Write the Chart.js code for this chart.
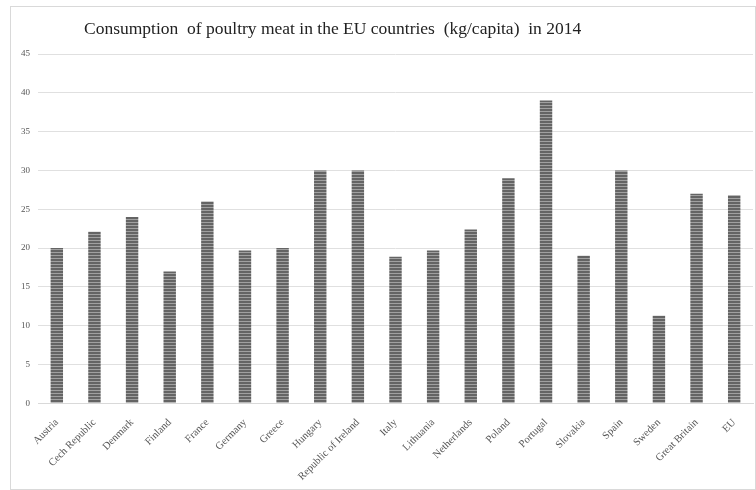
<!DOCTYPE html>
<html>
<head>
<meta charset="utf-8">
<script src="https://cdn.jsdelivr.net/npm/chart.js@4"></script>
<style>
  body { margin: 0; background: #fff; }
  #box { position: absolute; left: 10px; top: 6px; width: 744px; height: 482px; border: 1px solid #d9d9d9; }
</style>
</head>
<body>
<div id="box"><canvas id="chart"></canvas></div>
<script>
// data
const countries = ['Austria', 'Cech Republic', 'Denmark', 'Finland', 'France', 'Germany', 'Greece',
  'Hungary', 'Republic of Ireland', 'Italy', 'Lithuania', 'Netherlands', 'Poland', 'Portugal',
  'Slovakia', 'Spain', 'Sweden', 'Great Britain', 'EU'];
const consumption = [20, 22.1, 24, 17, 26, 19.7, 20, 30, 30, 18.9, 19.7, 22.4, 29, 39, 19, 30, 11.3, 27, 26.8];
const yTicks = [0, 5, 10, 15, 20, 25, 30, 35, 40, 45];
const title = 'Consumption  of poultry meat in the EU countries  (kg/capita)  in 2014';

// striped bar fill
function stripes() {
  const c = document.createElement('canvas');
  c.width = 4; c.height = 3;
  const g = c.getContext('2d');
  g.fillStyle = '#646464';
  g.fillRect(0, 0, 4, 3);
  g.fillStyle = '#a0a0a0';
  g.fillRect(0, 2, 4, 1);
  return g.createPattern(c, 'repeat');
}

// title sits left of centre in the source
const titlePlugin = {
  id: 'titleText',
  afterDraw(chart) {
    const ctx = chart.ctx;
    ctx.save();
    ctx.font = '17.5px "Liberation Serif"';
    ctx.fillStyle = '#222';
    ctx.textBaseline = 'middle';
    ctx.fillText(title, 73, 22);
    ctx.restore();
  }
};

new Chart(document.getElementById('chart'), {
  type: 'bar',
  data: {
    labels: countries,
    datasets: [{
      data: consumption,
      backgroundColor: stripes(),
      categoryPercentage: 1,
      barPercentage: 0.33
    }]
  },
  options: {
    responsive: true,
    maintainAspectRatio: false,
    animation: false,
    layout: { padding: { top: 47, left: 2, right: 2, bottom: 1 } },
    plugins: { legend: { display: false }, tooltip: { enabled: false } },
    scales: {
      x: {
        grid: { display: false },
        border: { color: '#d9d9d9' },
        ticks: {
          minRotation: 45, maxRotation: 45, autoSkip: false, padding: 5,
          color: '#555', font: { family: 'Liberation Serif', size: 10.5 }
        }
      },
      y: {
        min: 0, max: 45,
        afterBuildTicks(axis) { axis.ticks = yTicks.map(v => ({ value: v })); },
        grid: { color: '#e0e0e0', drawTicks: false },
        border: { display: false },
        ticks: { padding: 8, color: '#555', font: { family: 'Liberation Serif', size: 9 } }
      }
    }
  },
  plugins: [titlePlugin]
});
</script>
</body>
</html>
